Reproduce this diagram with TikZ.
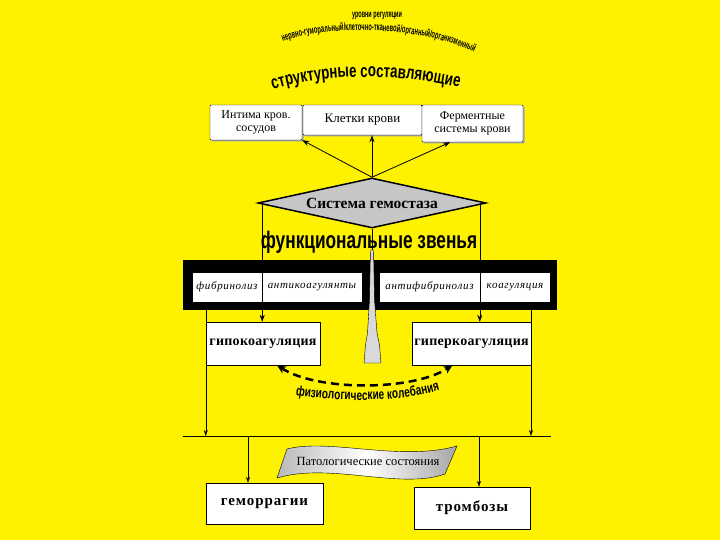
\documentclass[tikz,border=0pt]{standalone}
\usepackage{fontspec}
\setmainfont{Liberation Serif}
\newfontfamily\narrowfont[FakeStretch=0.72]{Liberation Sans}
\newfontfamily\thinfont[FakeStretch=0.55]{Liberation Sans}
\newfontfamily\spacedfont[LetterSpace=6]{Liberation Serif}
\newfontfamily\boxfont[LetterSpace=2]{Liberation Serif}
\usetikzlibrary{shapes.geometric,arrows.meta,shadows,decorations.text,calc}

\begin{document}
\begin{tikzpicture}[x=1pt,y=-1pt]
\tikzset{box/.style={draw, fill=white, rounded corners=1pt, align=center, inner sep=2pt,
    drop shadow={shadow xshift=1.5pt,shadow yshift=-1.5pt,fill=gray!70,opacity=1}},
  rbox/.style={draw, fill=white, inner sep=2pt, font=\boxfont\bfseries\fontsize{14}{15}\selectfont},
  cell/.style={draw, fill=white, minimum height=30pt, inner sep=0pt, font=\spacedfont\itshape\fontsize{11}{12}\selectfont},
  arr/.style={thick, -{Stealth[length=7pt,width=5pt]}},
  tip/.style={-{Stealth[length=6pt,width=4pt]}},
  arctext/.style={decorate, decoration={text along path, text align=center, text={#1}}}}
\useasboundingbox (0,0) rectangle (720,540);
\fill[yellow] (0,0) rectangle (720,540);

% structure
\node[font=\thinfont\bfseries\fontsize{10}{10}\selectfont] (levels) at (377,16) {уровни регуляции};
\path[arctext={|\thinfont\bfseries\fontsize{10.5}{10.5}\selectfont|нервно-гуморальный/клеточно-тканевой/органный/организменный}]
  (266,50) .. controls (306,22) and (434,22) .. (490,62);
\path[decorate, decoration={text along path, text align={left indent=18pt},
    text={|\narrowfont\bfseries\fontsize{18.5}{18.5}\selectfont|структурные составляющие}}]
  (256,96) .. controls (316,70) and (424,70) .. (500,100);

\node[box, minimum width=92pt, minimum height=35pt, font=\fontsize{12}{13}\selectfont] (intima) at (256,122.5) {Интима кров.\\сосудов};
\node[box, minimum width=119pt, minimum height=30pt, font=\fontsize{13}{14}\selectfont] (cells) at (362.5,120) {Клетки крови};
\node[box, minimum width=101pt, minimum height=37pt, font=\fontsize{12}{13}\selectfont] (enzyme) at (472.5,123.5) {Ферментные\\системы крови};

\node[diamond, draw, line width=1.5pt, fill=gray!45, aspect=4.5, inner sep=0pt, minimum width=228pt, minimum height=50pt,
  font=\bfseries\fontsize{15.5}{16}\selectfont] (hem) at (372,203) {Система гемостаза};
\draw[arr] (hem.north) -- (intima.south east);
\draw[arr] (hem.north) -- (hem.north |- cells.south);
\draw[arr] (hem.north) -- ($(enzyme.south west)!0.28!(enzyme.south east)$);

% functions
\node[fill=black, minimum width=374pt, minimum height=50pt, inner sep=0pt] (band) at (370,285) {};
\draw (hem.south) -- (hem.south |- band.north);
\node[font=\narrowfont\bfseries\fontsize{24}{24}\selectfont] (func) at (369,242) {функциональные звенья};
\node[cell, minimum width=70pt] (fib) at (227,287) {фибринолиз};
\node[cell, minimum width=100pt] (anti) at (312,287) {антикоагулянты};
\node[cell, minimum width=101pt] (antifib) at (429.5,287) {антифибринолиз};
\node[cell, minimum width=70pt] (coag) at (515,287) {коагуляция};
\draw[fill=gray!30] (370.5,250) -- (373.5,250) -- (374.5,300) -- (377,333) -- (379.5,345) -- (381,363)
  -- (364,363) -- (365.5,345) -- (367.5,333) -- (369.5,300) -- cycle;

\node[rbox, minimum width=114pt, minimum height=43pt] (hypo) at (263,343.5) {гипокоагуляция};
\node[rbox, minimum width=114pt, minimum height=43pt] (hyper) at (471.5,343.5) {гиперкоагуляция};
\draw (hem.west -| fib.north east) -- (fib.north east |- band.north);
\draw (hem.east -| coag.north west) -- (coag.north west |- band.north);
\draw[arr,thin] (fib.south east) -- (fib.south east |- hypo.north);
\draw[arr,thin] (coag.south west) -- (coag.south west |- hyper.north);

\draw[line width=2.5pt, dash pattern=on 8pt off 5pt, {Stealth[length=9pt,width=8pt]}-{Stealth[length=9pt,width=8pt]}]
  ($(hypo.south)+(14,0)$) .. controls +(40,26) and +(-40,26) .. ($(hyper.south)+(-19,0)$);
\path[arctext={|\narrowfont\bfseries\fontsize{14}{14}\selectfont|физиологические колебания}]
  (288,394) .. controls (330,402) and (400,404) .. (447,388);

% pathology
\coordinate (hl west) at (183,436);
\coordinate (hl east) at (551,436);
\draw (hl west) -- (hl east);
\draw[tip] (hypo.west |- band.south) -- (hypo.west |- hl west);
\draw[tip] (hyper.east |- band.south) -- (hyper.east |- hl east);

\draw[left color=gray!55, right color=gray!70, middle color=white]
  (287,449) .. controls (330,438) and (400,462) .. (457,446) -- (445,474)
  .. controls (400,490) and (330,462) .. (277,478) -- cycle;
\node[font=\fontsize{12.5}{13}\selectfont] (patho) at (368,461) {Патологические состояния};

\node[rbox, minimum width=117pt, minimum height=41pt, font=\spacedfont\bfseries\fontsize{15}{16}\selectfont] (hemor) at (264.5,503.5) {геморрагии};
\node[rbox, minimum width=116pt, minimum height=42pt, font=\spacedfont\bfseries\fontsize{15}{16}\selectfont] (thromb) at (472,508) {тромбозы};
\coordinate (l drop) at (248,436);
\coordinate (r drop) at (479,436);
\draw[tip] (l drop) -- (l drop |- hemor.north);
\draw[tip] (r drop) -- (r drop |- thromb.north);
\end{tikzpicture}
\end{document}
